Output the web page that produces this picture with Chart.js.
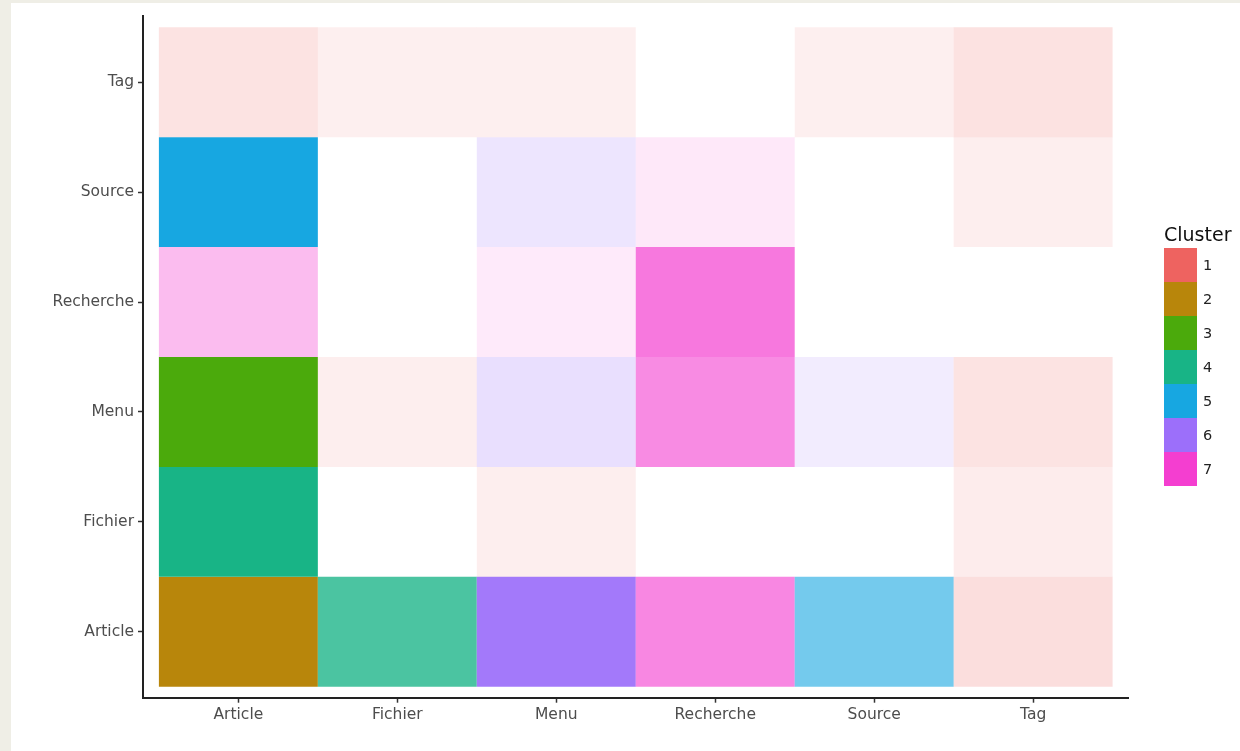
<!DOCTYPE html>
<html>
<head>
<meta charset="utf-8">
<script src="https://cdn.jsdelivr.net/npm/chart.js@4.4.1/dist/chart.umd.min.js"></script>
<style>
  html, body { margin: 0; padding: 0; }
  body { width: 1240px; height: 751px; background: #efeee6; position: relative; overflow: hidden; font-family: "DejaVu Sans", sans-serif; }
  #panel { position: absolute; left: 11px; top: 3px; width: 1229px; height: 748px; background: #ffffff; }
  #chart { position: absolute; left: 0; top: 0; }
  #legend { position: absolute; left: 1164px; top: 225px; }
  #legend .title { font-size: 19px; line-height: 19px; color: #111; margin-bottom: 4px; }
  #legend .item { display: flex; align-items: center; height: 34px; }
  #legend .key { width: 33px; height: 34px; }
  #legend .lab { margin-left: 6px; font-size: 14.5px; color: #222; }
</style>
</head>
<body>
<div id="panel"><canvas id="chart" width="1229" height="748"></canvas></div>
<div id="legend"></div>
<script>
// Categories (x: columns, y: rows bottom -> top)
const xCategories = ["Article", "Fichier", "Menu", "Recherche", "Source", "Tag"];
const yCategories = ["Article", "Fichier", "Menu", "Recherche", "Source", "Tag"];

// Cluster legend
const clusterLabels = ["1", "2", "3", "4", "5", "6", "7"];
const clusterColors = ["#ee6360", "#b8860b", "#4baa0c", "#18b486", "#17a7e1", "#9c6ffa", "#f43ed0"];

// Cluster id per cell (null = empty), one array per row (y category), ordered by x category
const clusterRowArticle   = [2, 4, 6, 7, 5, 1];
const clusterRowFichier   = [4, null, 1, null, null, 1];
const clusterRowMenu      = [3, 1, 6, 7, 6, 1];
const clusterRowRecherche = [7, null, 7, 7, null, null];
const clusterRowSource    = [5, null, 6, 7, null, 1];
const clusterRowTag       = [1, 1, 1, null, 1, 1];

// Intensity (opacity) per cell, same layout
const valueRowArticle   = [1.0, 0.78, 0.93, 0.62, 0.60, 0.21];
const valueRowFichier   = [1.0, 0, 0.11, 0, 0, 0.12];
const valueRowMenu      = [1.0, 0.11, 0.22, 0.60, 0.13, 0.18];
const valueRowRecherche = [0.35, 0, 0.11, 0.70, 0, 0];
const valueRowSource    = [1.0, 0, 0.18, 0.12, 0, 0.11];
const valueRowTag       = [0.18, 0.10, 0.10, 0, 0.10, 0.19];

const clusterRows = [clusterRowArticle, clusterRowFichier, clusterRowMenu, clusterRowRecherche, clusterRowSource, clusterRowTag];
const valueRows = [valueRowArticle, valueRowFichier, valueRowMenu, valueRowRecherche, valueRowSource, valueRowTag];

function hexToRgba(hex, a) {
  const n = parseInt(hex.slice(1), 16);
  return `rgba(${(n >> 16) & 255}, ${(n >> 8) & 255}, ${n & 255}, ${a})`;
}

const cells = [];
const cellColors = [];
yCategories.forEach((yc, yi) => {
  xCategories.forEach((xc, xi) => {
    const c = clusterRows[yi][xi];
    if (c === null) return;
    cells.push({ x: xi + 1, y: [yi + 0.5, yi + 1.5] });
    cellColors.push(hexToRgba(clusterColors[c - 1], valueRows[yi][xi]));
  });
});

const tickFont = { family: "DejaVu Sans", size: 15.5 };
const tickColor = "#4d4d4d";

new Chart(document.getElementById("chart"), {
  type: "bar",
  data: {
    datasets: [{
      data: cells,
      backgroundColor: cellColors,
      borderWidth: 0,
      borderSkipped: false,
      inflateAmount: 0,
      categoryPercentage: 1.0,
      barPercentage: 1.0
    }]
  },
  options: {
    responsive: false,
    devicePixelRatio: 1,
    animation: false,
    layout: { padding: { left: 0, top: 12, right: 111.5, bottom: 0 } },
    plugins: { legend: { display: false }, tooltip: { enabled: false } },
    scales: {
      x: {
        type: "linear",
        offset: false,
        min: 0.4, max: 6.6,
        afterBuildTicks: s => { s.ticks = xCategories.map((_, i) => ({ value: i + 1 })); },
        afterFit: s => { s.height = 53.3; },
        ticks: { callback: v => xCategories[v - 1], color: tickColor, font: tickFont, padding: 3, autoSkip: false, maxRotation: 0 },
        grid: { offset: false, drawOnChartArea: false, drawTicks: true, tickLength: 5, tickColor: "#333", tickWidth: 1.5 },
        border: { display: true, color: "#222", width: 2 }
      },
      y: {
        type: "linear",
        offset: false,
        min: 0.4, max: 6.6,
        afterBuildTicks: s => { s.ticks = yCategories.map((_, i) => ({ value: i + 1 })); },
        afterFit: s => { s.width = 132; },
        ticks: { callback: v => yCategories[v - 1], color: tickColor, font: tickFont, padding: 4, autoSkip: false },
        grid: { offset: false, drawOnChartArea: false, drawTicks: true, tickLength: 5, tickColor: "#333", tickWidth: 1.5 },
        border: { display: true, color: "#222", width: 2 }
      }
    }
  }
});

// Legend
const legend = document.getElementById("legend");
const title = document.createElement("div");
title.className = "title";
title.textContent = "Cluster";
legend.appendChild(title);
clusterLabels.forEach((lab, i) => {
  const item = document.createElement("div");
  item.className = "item";
  const key = document.createElement("div");
  key.className = "key";
  key.style.background = clusterColors[i];
  const t = document.createElement("span");
  t.className = "lab";
  t.textContent = lab;
  item.appendChild(key);
  item.appendChild(t);
  legend.appendChild(item);
});
</script>
</body>
</html>
